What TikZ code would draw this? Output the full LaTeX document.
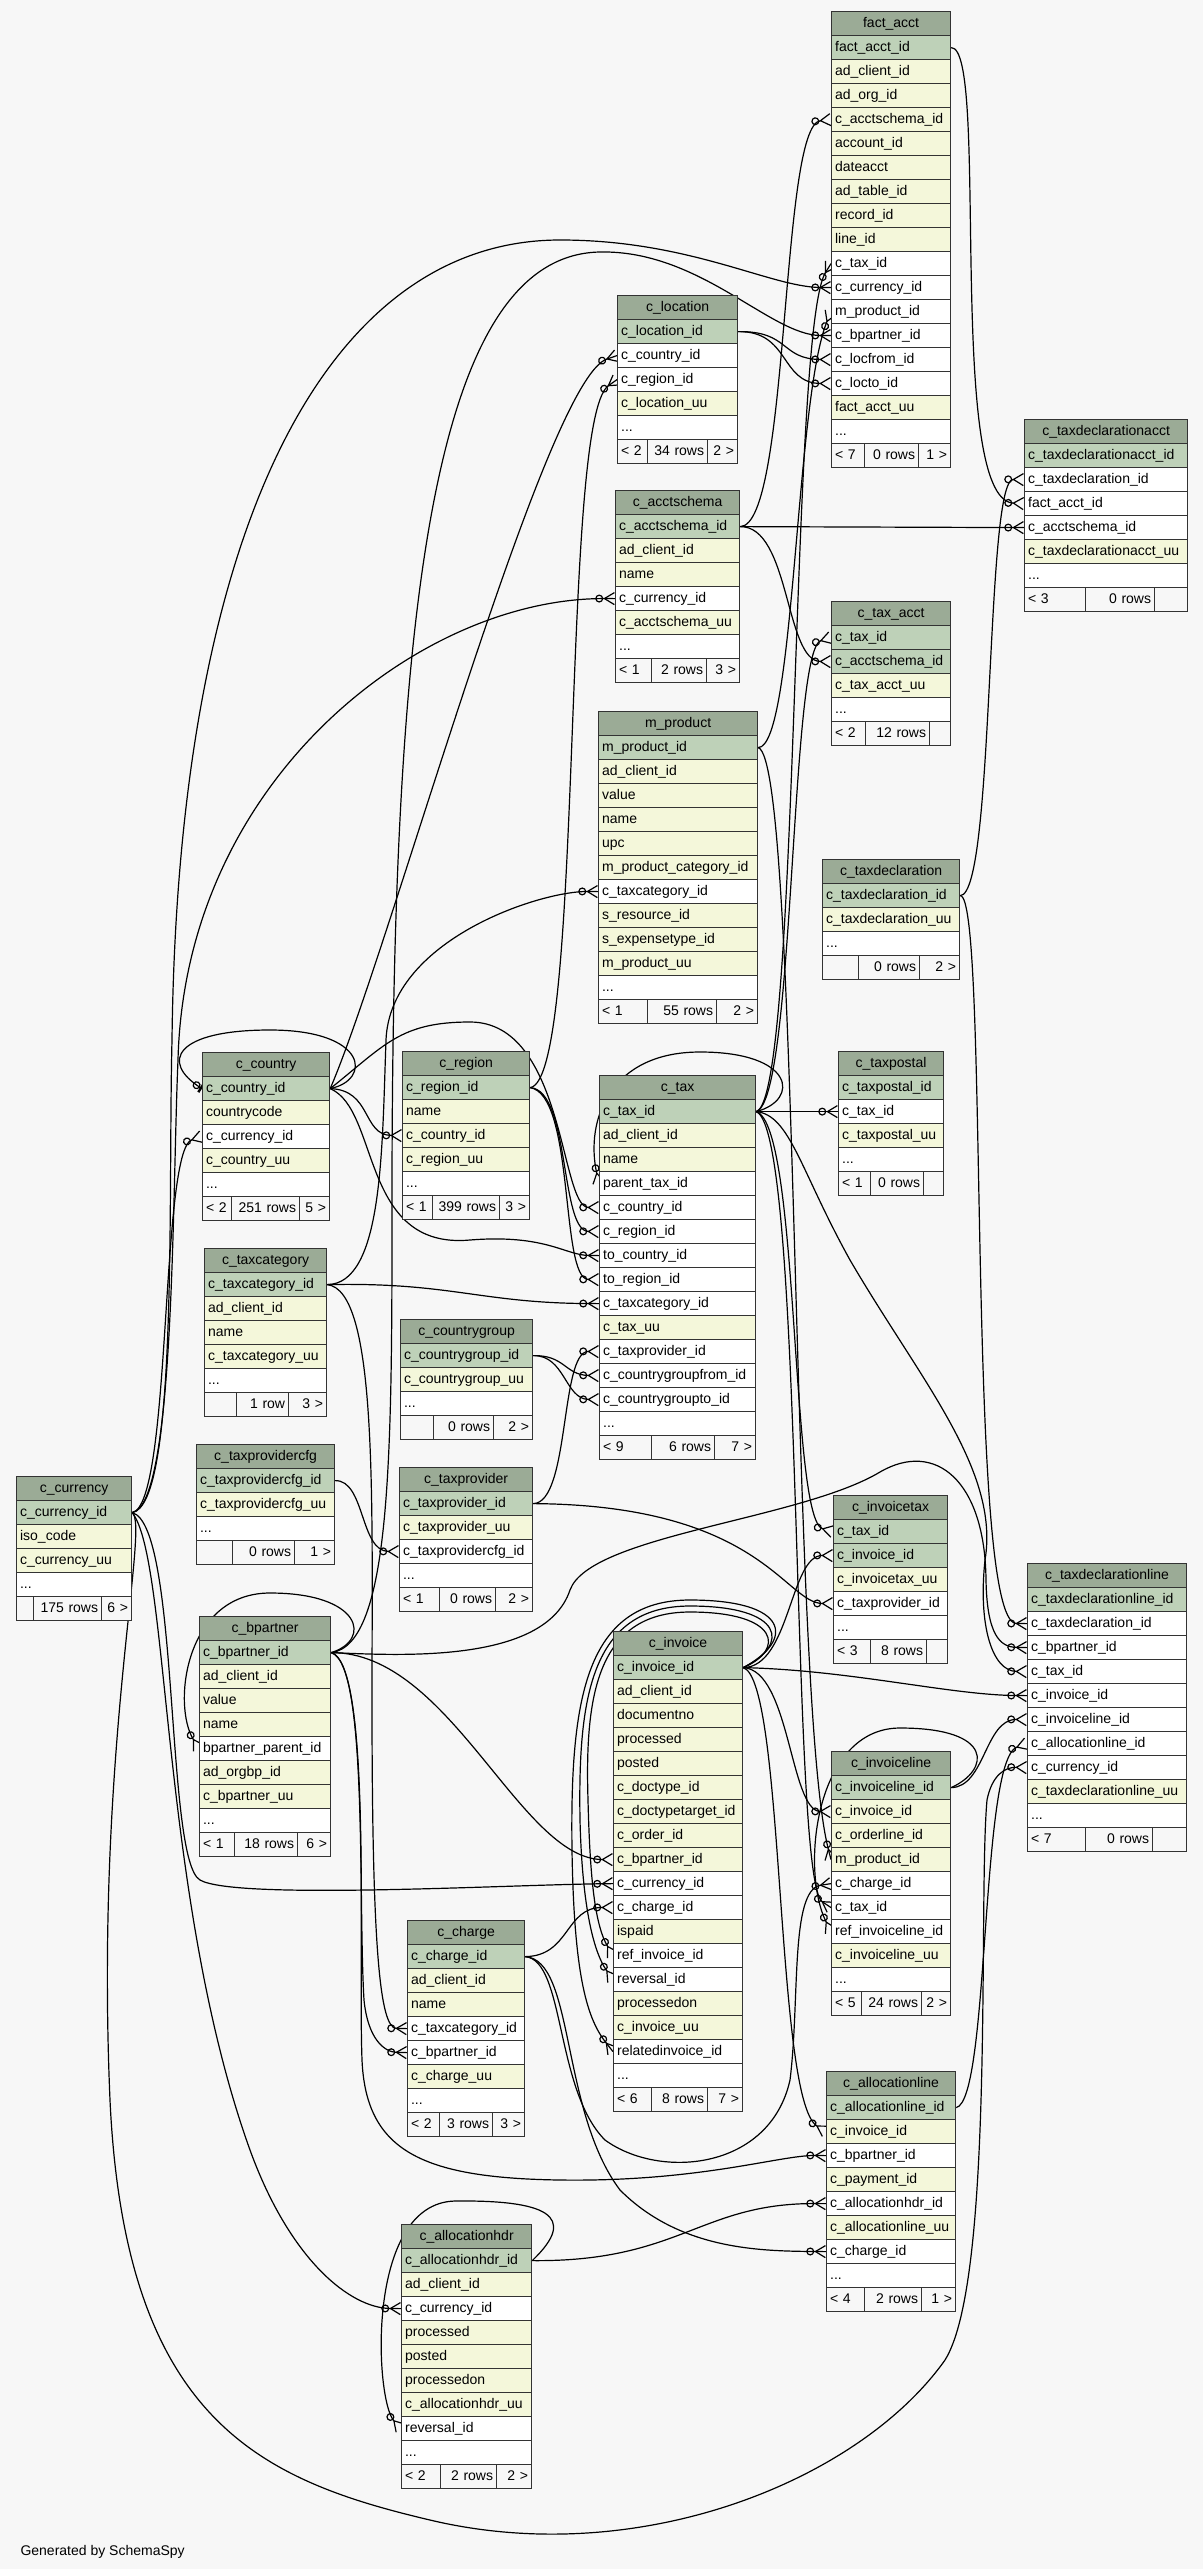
\documentclass[tikz,border=0pt]{standalone}
\usepackage{fontspec}
\setmainfont{Liberation Sans}
\usetikzlibrary{arrows.meta,decorations.markings}

\definecolor{colbg}{HTML}{F7F7F7}
\definecolor{colh}{HTML}{9BAB96}
\definecolor{colp}{HTML}{BED1B8}
\definecolor{coly}{HTML}{F4F7DA}
\definecolor{colw}{HTML}{FFFFFF}
\definecolor{colf}{HTML}{F7F7F7}

\pgfdeclarelayer{bg}
\pgfdeclarelayer{edges}
\pgfsetlayers{bg,edges,main}

\newcommand{\rowdots}{...}
% name, x, y, width, title, rows (kind/text)
\newcommand{\dbtable}[6]{%
  \pgfmathsetmacro{\tw}{#4-7}
  \node[tblhead, text width=\tw pt] (#1-h) at (#2,#3) {#5};
  \foreach \kind/\txt [count=\i] in {#6}{
    \node[tblrow=\kind, text width=\tw pt] (#1-\i) at (#2,#3+24*\i) {\txt};
  }
}
% name, x, y, divider 1, divider 2, right edge, left/middle/right text
\newcommand{\dbfoot}[9]{%
  \pgfmathsetmacro{\wa}{#4-#2-7}
  \pgfmathsetmacro{\wb}{#5-#4-7}
  \pgfmathsetmacro{\wc}{#6-#5-7}
  \node[tblfoot, text width=\wa pt, align=left] (#1-fl) at (#2,#3) {#7};
  \node[tblfoot, text width=\wb pt, align=right] (#1-fm) at (#4,#3) {#8};
  \node[tblfoot, text width=\wc pt, align=right] (#1-fr) at (#5,#3) {#9};
}

\begin{document}
\begin{tikzpicture}[x=1pt, y=-1pt,
    cell/.style={draw=black!80, line width=1.2pt, minimum height=24pt,
                 inner xsep=3.5pt, inner ysep=0pt, text height=10.5pt, text depth=2.5pt,
                 anchor=north west, font=\fontsize{14}{16}\selectfont},
    tblhead/.style={cell, fill=colh, align=center},
    tblrow/.style={cell, fill=col#1, align=left},
    tblfoot/.style={cell, fill=colf},
    fk/.style={line width=1.2pt,
               -{Circle[open,length=8pt,width=8pt] Straight Barb[reversed,length=10pt,width=12pt]},
               postaction={decorate, decoration={markings,
                 mark=at position 1 with {\draw[-, line width=1.2pt] (-10pt,0) -- (0,0);}}}},
    fkone/.style={line width=1.2pt,
               -{Circle[open,length=8pt,width=8pt] Bar[width=10pt,line width=2.4pt]}}
  ]
  \useasboundingbox (0,0) rectangle (1203,2569);
  \begin{pgfonlayer}{bg}
    \fill[colbg] (0,0) rectangle (1203,2569);
  \end{pgfonlayer}

  \dbtable{fa}{831}{11}{119}{fact\_acct}{p/fact\_acct\_id, y/ad\_client\_id, y/ad\_org\_id,
    y/c\_acctschema\_id, y/account\_id, y/dateacct, y/ad\_table\_id, y/record\_id, y/line\_id,
    w/c\_tax\_id, w/c\_currency\_id, w/m\_product\_id, w/c\_bpartner\_id, w/c\_locfrom\_id,
    w/c\_locto\_id, y/fact\_acct\_uu, w/\rowdots}
  \dbfoot{fa}{831}{443}{864}{918}{950}{< 7}{0 rows}{1 >}

  \dbtable{loc}{617}{295}{120}{c\_location}{p/c\_location\_id, w/c\_country\_id, w/c\_region\_id,
    y/c\_location\_uu, w/\rowdots}
  \dbfoot{loc}{617}{439}{647}{707}{737}{< 2}{34 rows}{2 >}

  \dbtable{tda}{1024}{419}{163}{c\_taxdeclarationacct}{p/c\_taxdeclarationacct\_id,
    w/c\_taxdeclaration\_id, w/fact\_acct\_id, w/c\_acctschema\_id, y/c\_taxdeclarationacct\_uu, w/\rowdots}
  \dbfoot{tda}{1024}{587}{1085}{1154}{1187}{< 3}{0 rows}{}

  \dbtable{as}{615}{490}{124}{c\_acctschema}{p/c\_acctschema\_id, y/ad\_client\_id, y/name,
    w/c\_currency\_id, y/c\_acctschema\_uu, w/\rowdots}
  \dbfoot{as}{615}{658}{651}{706}{739}{< 1}{2 rows}{3 >}

  \dbtable{ta}{831}{601}{119}{c\_tax\_acct}{p/c\_tax\_id, p/c\_acctschema\_id, y/c\_tax\_acct\_uu, w/\rowdots}
  \dbfoot{ta}{831}{721}{865}{929}{950}{< 2}{12 rows}{}

  \dbtable{mp}{598}{711}{159}{m\_product}{p/m\_product\_id, y/ad\_client\_id, y/value, y/name, y/upc,
    y/m\_product\_category\_id, w/c\_taxcategory\_id, y/s\_resource\_id, y/s\_expensetype\_id,
    y/m\_product\_uu, w/\rowdots}
  \dbfoot{mp}{598}{999}{647}{716}{757}{< 1}{55 rows}{2 >}

  \dbtable{td}{822}{859}{137}{c\_taxdeclaration}{p/c\_taxdeclaration\_id, y/c\_taxdeclaration\_uu, w/\rowdots}
  \dbfoot{td}{822}{955}{858}{919}{959}{}{0 rows}{2 >}

  \dbtable{cy}{202}{1052}{127}{c\_country}{p/c\_country\_id, y/countrycode, w/c\_currency\_id,
    y/c\_country\_uu, w/\rowdots}
  \dbfoot{cy}{202}{1196}{231}{299}{329}{< 2}{251 rows}{5 >}

  \dbtable{rg}{402}{1051}{127}{c\_region}{p/c\_region\_id, y/name, y/c\_country\_id, y/c\_region\_uu, w/\rowdots}
  \dbfoot{rg}{402}{1195}{432}{499}{529}{< 1}{399 rows}{3 >}

  \dbtable{tx}{599}{1075}{156}{c\_tax}{p/c\_tax\_id, y/ad\_client\_id, y/name, w/parent\_tax\_id,
    w/c\_country\_id, w/c\_region\_id, w/to\_country\_id, w/to\_region\_id, w/c\_taxcategory\_id,
    y/c\_tax\_uu, w/c\_taxprovider\_id, w/c\_countrygroupfrom\_id, w/c\_countrygroupto\_id, w/\rowdots}
  \dbfoot{tx}{599}{1435}{651}{714}{755}{< 9}{6 rows}{7 >}

  \dbtable{tp}{838}{1051}{105}{c\_taxpostal}{p/c\_taxpostal\_id, w/c\_tax\_id, y/c\_taxpostal\_uu, w/\rowdots}
  \dbfoot{tp}{838}{1171}{870}{923}{943}{< 1}{0 rows}{}

  \dbtable{tc}{204}{1248}{122}{c\_taxcategory}{p/c\_taxcategory\_id, y/ad\_client\_id, y/name,
    y/c\_taxcategory\_uu, w/\rowdots}
  \dbfoot{tc}{204}{1392}{236}{288}{326}{}{1 row}{3 >}

  \dbtable{cg}{400}{1319}{132}{c\_countrygroup}{p/c\_countrygroup\_id, y/c\_countrygroup\_uu, w/\rowdots}
  \dbfoot{cg}{400}{1415}{433}{493}{532}{}{0 rows}{2 >}

  \dbtable{tpc}{196}{1444}{138}{c\_taxprovidercfg}{p/c\_taxprovidercfg\_id, y/c\_taxprovidercfg\_uu, w/\rowdots}
  \dbfoot{tpc}{196}{1540}{232}{294}{334}{}{0 rows}{1 >}

  \dbtable{tpr}{399}{1467}{133}{c\_taxprovider}{p/c\_taxprovider\_id, y/c\_taxprovider\_uu,
    w/c\_taxprovidercfg\_id, w/\rowdots}
  \dbfoot{tpr}{399}{1587}{439}{495}{532}{< 1}{0 rows}{2 >}

  \dbtable{cur}{16}{1476}{115}{c\_currency}{p/c\_currency\_id, y/iso\_code, y/c\_currency\_uu, w/\rowdots}
  \dbfoot{cur}{16}{1596}{33}{101}{131}{}{175 rows}{6 >}

  \dbtable{it}{833}{1495}{114}{c\_invoicetax}{p/c\_tax\_id, p/c\_invoice\_id, y/c\_invoicetax\_uu,
    w/c\_taxprovider\_id, w/\rowdots}
  \dbfoot{it}{833}{1639}{870}{926}{947}{< 3}{8 rows}{}

  \dbtable{tdl}{1027}{1563}{159}{c\_taxdeclarationline}{p/c\_taxdeclarationline\_id,
    w/c\_taxdeclaration\_id, w/c\_bpartner\_id, w/c\_tax\_id, w/c\_invoice\_id, w/c\_invoiceline\_id,
    w/c\_allocationline\_id, w/c\_currency\_id, y/c\_taxdeclarationline\_uu, w/\rowdots}
  \dbfoot{tdl}{1027}{1827}{1085}{1152}{1186}{< 7}{0 rows}{}

  \dbtable{bp}{199}{1616}{131}{c\_bpartner}{p/c\_bpartner\_id, y/ad\_client\_id, y/value, y/name,
    w/bpartner\_parent\_id, y/ad\_orgbp\_id, y/c\_bpartner\_uu, w/\rowdots}
  \dbfoot{bp}{199}{1832}{234}{297}{330}{< 1}{18 rows}{6 >}

  \dbtable{inv}{613}{1631}{129}{c\_invoice}{p/c\_invoice\_id, y/ad\_client\_id, y/documentno,
    y/processed, y/posted, y/c\_doctype\_id, y/c\_doctypetarget\_id, y/c\_order\_id, y/c\_bpartner\_id,
    w/c\_currency\_id, w/c\_charge\_id, y/ispaid, w/ref\_invoice\_id, w/reversal\_id, y/processedon,
    y/c\_invoice\_uu, w/relatedinvoice\_id, w/\rowdots}
  \dbfoot{inv}{613}{2087}{651}{707}{742}{< 6}{8 rows}{7 >}

  \dbtable{il}{831}{1751}{119}{c\_invoiceline}{p/c\_invoiceline\_id, y/c\_invoice\_id, y/c\_orderline\_id,
    y/m\_product\_id, w/c\_charge\_id, w/c\_tax\_id, w/ref\_invoiceline\_id, y/c\_invoiceline\_uu, w/\rowdots}
  \dbfoot{il}{831}{1991}{861}{921}{950}{< 5}{24 rows}{2 >}

  \dbtable{ch}{407}{1920}{117}{c\_charge}{p/c\_charge\_id, y/ad\_client\_id, y/name, w/c\_taxcategory\_id,
    w/c\_bpartner\_id, y/c\_charge\_uu, w/\rowdots}
  \dbfoot{ch}{407}{2112}{439}{492}{524}{< 2}{3 rows}{3 >}

  \dbtable{al}{826}{2071}{129}{c\_allocationline}{p/c\_allocationline\_id, y/c\_invoice\_id,
    w/c\_bpartner\_id, y/c\_payment\_id, w/c\_allocationhdr\_id, y/c\_allocationline\_uu,
    w/c\_charge\_id, w/\rowdots}
  \dbfoot{al}{826}{2287}{864}{921}{955}{< 4}{2 rows}{1 >}

  \dbtable{ah}{401}{2224}{130}{c\_allocationhdr}{p/c\_allocationhdr\_id, y/ad\_client\_id,
    w/c\_currency\_id, y/processed, y/posted, y/processedon, y/c\_allocationhdr\_uu, w/reversal\_id, w/\rowdots}
  \dbfoot{ah}{401}{2464}{440}{496}{531}{< 2}{2 rows}{2 >}

  \node[anchor=base west, font=\fontsize{14}{16}\selectfont] (credit) at (17,2555) {Generated by SchemaSpy};

  \begin{pgfonlayer}{edges}
    % c_currency
    \draw[fk] (cur-1.east) .. controls (172,1505) and (160,1150) .. (cy-3.west);
    \draw[fk] (cur-1.east) .. controls (175,1505) and (172,1200) .. (178,1060)
      .. controls (185,780) and (420,598) .. (as-4.west);
    \draw[fk] (cur-1.east) .. controls (178,1505) and (168,1200) .. (172,1040)
      .. controls (178,520) and (330,240) .. (560,240) .. controls (690,240) and (770,287) .. (fa-11.west);
    \draw[fk] (cur-1.east) .. controls (180,1525) and (165,1860) .. (200,1880)
      .. controls (235,1900) and (500,1885) .. (inv-10.west);
    \draw[fk] (cur-1.east) .. controls (170,1560) and (160,1900) .. (250,2150)
      .. controls (290,2260) and (350,2308) .. (ah-3.west);
    \draw[fk] (cur-1.east) .. controls (150,1525) and (95,1750) .. (110,2100)
      .. controls (125,2420) and (260,2480) .. (430,2520) .. controls (640,2570) and (860,2480) .. (945,2360)
      .. controls (995,2280) and (978,1900) .. (987,1800) .. controls (992,1775) and (1005,1767) .. (tdl-8.west);
    % c_country
    \draw[fkone] (cy-1.east) .. controls (372,1080) and (368,1030) .. (270,1030)
      .. controls (175,1030) and (160,1062) .. (cy-1.west);
    \draw[fk] (cy-1.east) .. controls (390,950) and (545,380) .. (loc-2.west);
    \draw[fk] (cy-1.east) .. controls (372,1090) and (362,1135) .. (rg-3.west);
    \draw[fk] (cy-1.east) .. controls (385,1045) and (400,1022) .. (470,1022)
      .. controls (565,1022) and (560,1207) .. (tx-5.west);
    \draw[fk] (cy-1.east) .. controls (380,1110) and (360,1250) .. (470,1240)
      .. controls (545,1234) and (565,1255) .. (tx-7.west);
    % c_region
    \draw[fk] (rg-1.east) .. controls (585,1080) and (560,420) .. (loc-3.west);
    \draw[fk] (rg-1.east) .. controls (570,1090) and (560,1231) .. (tx-6.west);
    \draw[fk] (rg-1.east) .. controls (575,1095) and (560,1279) .. (tx-8.west);
    % c_taxcategory
    \draw[fk] (tc-1.east) .. controls (383,1284) and (382,1150) .. (386,1040)
      .. controls (390,940) and (540,891) .. (mp-7.west);
    \draw[fk] (tc-1.east) .. controls (450,1282) and (480,1303) .. (tx-9.west);
    \draw[fk] (tc-1.east) .. controls (378,1290) and (372,1500) .. (372,1700)
      .. controls (372,1950) and (380,2028) .. (ch-4.west);
    % c_countrygroup, c_taxprovidercfg, c_taxprovider
    \draw[fk] (cg-1.east) .. controls (565,1355) and (565,1375) .. (tx-12.west);
    \draw[fk] (cg-1.east) .. controls (565,1355) and (565,1399) .. (tx-13.west);
    \draw[fk] (tpc-1.east) .. controls (365,1480) and (360,1551) .. (tpr-3.west);
    \draw[fk] (tpr-1.east) .. controls (570,1503) and (560,1351) .. (tx-11.west);
    \draw[fk] (tpr-1.east) .. controls (760,1505) and (785,1603) .. (it-4.west);
    % c_bpartner
    \draw[fk] (bp-1.east) .. controls (372,1640) and (362,1593) .. (270,1593)
      .. controls (185,1593) and (172,1705) .. (bp-5.west);
    \draw[fk] (bp-1.east) .. controls (392,1645) and (392,1450) .. (392,1200)
      .. controls (392,620) and (430,255) .. (600,252) .. controls (700,250) and (770,335) .. (fa-13.west);
    \draw[fk] (bp-1.east) .. controls (450,1652) and (520,1859) .. (inv-9.west);
    \draw[fk] (bp-1.east) .. controls (368,1662) and (358,1900) .. (364,2000)
      .. controls (368,2040) and (385,2052) .. (ch-5.west);
    \draw[fk] (bp-1.east) .. controls (395,1655) and (545,1665) .. (570,1590)
      .. controls (590,1535) and (800,1520) .. (880,1472) .. controls (935,1440) and (985,1480) .. (986,1580)
      .. controls (987,1635) and (1000,1647) .. (tdl-3.west);
    \draw[fk] (bp-1.east) .. controls (372,1665) and (358,1950) .. (362,2060)
      .. controls (366,2150) and (420,2178) .. (560,2180) .. controls (700,2182) and (780,2155) .. (al-3.west);
    % c_charge, c_allocationhdr
    \draw[fk] (ch-1.east) .. controls (570,1956) and (565,1907) .. (inv-11.west);
    \draw[fk] (ch-1.east) .. controls (565,1960) and (555,2090) .. (605,2140)
      .. controls (660,2180) and (770,2170) .. (790,2080) .. controls (800,2000) and (790,1890) .. (il-5.west);
    \draw[fk] (ch-1.east) .. controls (575,1960) and (560,2110) .. (620,2190)
      .. controls (680,2250) and (760,2251) .. (al-7.west);
    \draw[fk] (ah-1.east) .. controls (680,2262) and (700,2203) .. (al-5.west);
    \draw[fk] (ah-1.east) .. controls (580,2215) and (545,2200) .. (455,2201)
      .. controls (365,2203) and (375,2400) .. (ah-8.west);
    % c_acctschema, fact_acct, c_taxdeclaration, c_location
    \draw[fk] (as-1.east) .. controls (790,526) and (780,125) .. (fa-4.west);
    \draw[fk] (as-1.east) -- (tda-4.west);
    \draw[fk] (as-1.east) .. controls (790,526) and (785,661) .. (ta-2.west);
    \draw[fk] (fa-1.east) .. controls (990,47) and (945,500) .. (tda-3.west);
    \draw[fk] (td-1.east) .. controls (995,895) and (985,479) .. (tda-2.west);
    \draw[fk] (td-1.east) .. controls (990,895) and (965,1623) .. (tdl-2.west);
    \draw[fk] (loc-1.east) .. controls (790,331) and (780,359) .. (fa-14.west);
    \draw[fk] (loc-1.east) .. controls (790,331) and (780,383) .. (fa-15.west);
    % m_product
    \draw[fk] (mp-1.east) .. controls (795,747) and (795,400) .. (fa-12.west);
    \draw[fk] (mp-1.east) .. controls (800,760) and (790,1700) .. (il-4.west);
    % c_tax
    \draw[fk] (tx-1.east) .. controls (800,1100) and (790,330) .. (fa-10.west);
    \draw[fk] (tx-1.east) .. controls (795,1100) and (790,650) .. (ta-1.west);
    \draw[fk] (tx-1.east) -- (tp-2.west);
    \draw[fk] (tx-1.east) .. controls (800,1125) and (790,1520) .. (it-1.west);
    \draw[fk] (tx-1.east) .. controls (805,1130) and (790,1880) .. (il-6.west);
    \draw[fk] (tx-1.east) .. controls (790,1115) and (800,1170) .. (850,1260)
      .. controls (920,1380) and (1000,1470) .. (985,1560) .. controls (978,1625) and (992,1671) .. (tdl-4.west);
    \draw[fk] (tx-1.east) .. controls (800,1100) and (795,1052) .. (700,1052)
      .. controls (610,1052) and (585,1120) .. (tx-4.west);
    % c_invoice
    \draw[fk] (inv-1.east) .. controls (790,1667) and (790,1555) .. (it-2.west);
    \draw[fk] (inv-1.east) .. controls (850,1670) and (950,1695) .. (tdl-5.west);
    \draw[fk] (inv-1.east) .. controls (790,1670) and (790,1811) .. (il-2.west);
    \draw[fk] (inv-1.east) .. controls (785,1680) and (775,2100) .. (al-2.west);
    \draw[fk] (inv-1.east) .. controls (785,1650) and (780,1612) .. (690,1612)
      .. controls (595,1612) and (585,1700) .. (588,1800) .. controls (590,1880) and (595,1925) .. (inv-13.west);
    \draw[fk] (inv-1.east) .. controls (790,1645) and (785,1606) .. (690,1606)
      .. controls (590,1606) and (578,1700) .. (580,1820) .. controls (582,1900) and (592,1950) .. (inv-14.west);
    \draw[fk] (inv-1.east) .. controls (795,1640) and (790,1600) .. (690,1600)
      .. controls (585,1600) and (570,1700) .. (572,1850) .. controls (574,1980) and (588,2020) .. (inv-17.west);
    % c_invoiceline, c_allocationline
    \draw[fk] (il-1.east) .. controls (985,1787) and (985,1719) .. (tdl-6.west);
    \draw[fk] (il-1.east) .. controls (990,1770) and (995,1728) .. (900,1728)
      .. controls (815,1728) and (800,1870) .. (il-7.west);
    \draw[fk] (al-1.east) .. controls (990,2100) and (980,1760) .. (tdl-7.west);
  \end{pgfonlayer}
\end{tikzpicture}
\end{document}
